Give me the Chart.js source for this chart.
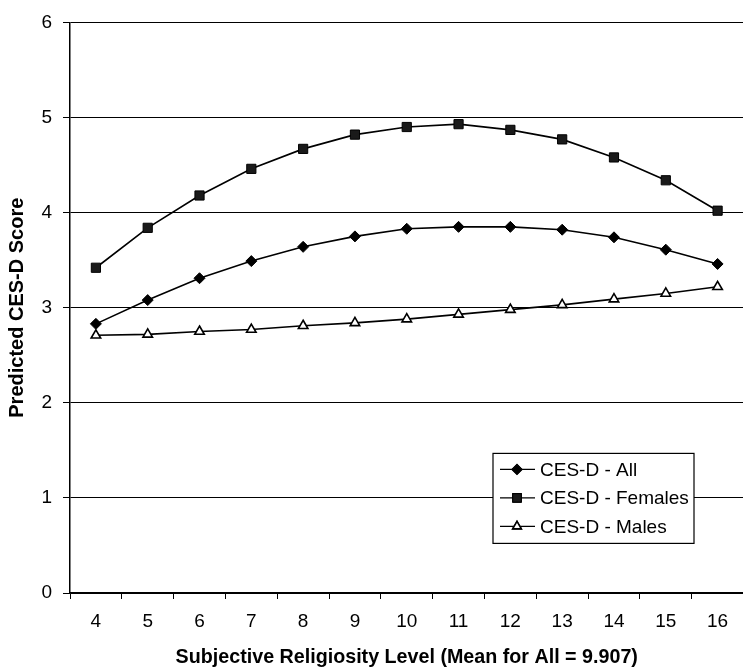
<!DOCTYPE html>
<html>
<head>
<meta charset="utf-8">
<script src="https://cdn.jsdelivr.net/npm/chart.js@4/dist/chart.umd.min.js"></script>
<style>
  html, body { margin: 0; padding: 0; background: #fff; overflow: hidden; }
</style>
</head>
<body>
<canvas id="cesdChart" width="751" height="669"></canvas>
<script>
// Religiosity levels on the x axis
const levels = ['4', '5', '6', '7', '8', '9', '10', '11', '12', '13', '14', '15', '16'];

// Predicted CES-D scores
const allScores = [2.83, 3.08, 3.31, 3.49, 3.64, 3.75, 3.83, 3.85, 3.85, 3.82, 3.74, 3.61, 3.46];
const femaleScores = [3.42, 3.84, 4.18, 4.46, 4.67, 4.82, 4.90, 4.93, 4.87, 4.77, 4.58, 4.34, 4.02];
const maleScores = [2.71, 2.72, 2.75, 2.77, 2.81, 2.84, 2.88, 2.93, 2.98, 3.03, 3.09, 3.15, 3.22];

const seriesNames = ['CES-D - All', 'CES-D - Females', 'CES-D - Males'];
const yTicks = [0, 1, 2, 3, 4, 5, 6];

const FONT = "'Liberation Sans', Arial, Helvetica, sans-serif";

// Legend drawn inside the plot, boxed, like the original figure
const boxLegend = {
    id: 'boxLegend',
    afterDraw(chart) {
        const ctx = chart.ctx;
        const area = chart.chartArea;
        const x0 = area.left + 423;
        const y0 = area.top + 431;
        const w = 201, h = 90;
        ctx.save();
        ctx.fillStyle = '#fff';
        ctx.fillRect(x0, y0, w, h);
        ctx.strokeStyle = '#000';
        ctx.lineWidth = 1.2;
        ctx.strokeRect(x0, y0, w, h);
        ctx.font = '19px ' + FONT;
        ctx.textBaseline = 'middle';
        chart.data.datasets.forEach((ds, i) => {
            const cy = y0 + 16 + i * 28.5;
            ctx.strokeStyle = '#000';
            ctx.lineWidth = 1.3;
            ctx.beginPath();
            ctx.moveTo(x0 + 7, cy);
            ctx.lineTo(x0 + 42, cy);
            ctx.stroke();
            Chart.helpers.drawPoint(ctx, {
                pointStyle: ds.pointStyle,
                radius: ds.pointRadius - 0.5,
                rotation: 0,
                borderWidth: ds.pointBorderWidth
            }, x0 + 24, cy);
            ctx.fillStyle = ds.pointBackgroundColor;
            ctx.strokeStyle = '#000';
            ctx.lineWidth = ds.pointBorderWidth;
            ctx.fill();
            ctx.stroke();
            ctx.fillStyle = '#000';
            ctx.fillText(ds.label, x0 + 47, cy + 1);
        });
        ctx.restore();
    }
};

const ctx = document.getElementById('cesdChart').getContext('2d');
const cesdChart = new Chart(ctx, {
    type: 'line',
    data: {
        labels: levels,
        datasets: [{
            label: seriesNames[0],
            data: allScores,
            borderColor: '#000',
            borderWidth: 1.6,
            pointStyle: 'rectRot',
            pointRadius: 5.5,
            pointBackgroundColor: '#000',
            pointBorderColor: '#000',
            pointBorderWidth: 1,
            tension: 0
        }, {
            label: seriesNames[1],
            data: femaleScores,
            borderColor: '#000',
            borderWidth: 1.6,
            pointStyle: 'rect',
            pointRadius: 6.5,
            pointBackgroundColor: '#1a1a1a',
            pointBorderColor: '#000',
            pointBorderWidth: 1,
            tension: 0
        }, {
            label: seriesNames[2],
            data: maleScores,
            borderColor: '#000',
            borderWidth: 1.6,
            pointStyle: 'triangle',
            pointRadius: 5.5,
            pointBackgroundColor: '#fff',
            pointBorderColor: '#000',
            pointBorderWidth: 1.6,
            tension: 0
        }]
    },
    options: {
        responsive: false,
        animation: false,
        layout: { padding: { top: 16, right: 0, bottom: 0, left: 0 } },
        plugins: {
            legend: { display: false },
            tooltip: { enabled: false }
        },
        scales: {
            x: {
                offset: true,
                afterFit: function (scale) { scale.height = 76; },
                grid: {
                    offset: true,
                    drawOnChartArea: false,
                    drawTicks: true,
                    tickLength: 6,
                    color: '#000',
                    lineWidth: 1
                },
                border: { color: '#000', width: 1.5 },
                ticks: {
                    color: '#000',
                    padding: 11,
                    maxRotation: 0,
                    font: { family: FONT, size: 19 }
                },
                title: {
                    display: true,
                    text: 'Subjective Religiosity Level (Mean for All = 9.907)',
                    color: '#000',
                    padding: { top: 2, bottom: 0 },
                    font: { family: FONT, size: 19.7, weight: 'bold' }
                }
            },
            y: {
                min: 0,
                max: 6,
                afterFit: function (scale) { scale.width = 70; },
                afterBuildTicks: function (scale) {
                    scale.ticks = yTicks.map(v => ({ value: v }));
                },
                grid: {
                    color: '#000',
                    lineWidth: 1,
                    drawTicks: true,
                    tickLength: 7
                },
                border: { color: '#000', width: 1.5 },
                ticks: {
                    color: '#000',
                    padding: 11,
                    font: { family: FONT, size: 19 }
                },
                title: {
                    display: true,
                    text: 'Predicted CES-D Score',
                    color: '#000',
                    padding: { top: 5, bottom: 0 },
                    font: { family: FONT, size: 20, weight: 'bold' }
                }
            }
        }
    },
    plugins: [boxLegend]
});
</script>
</body>
</html>
